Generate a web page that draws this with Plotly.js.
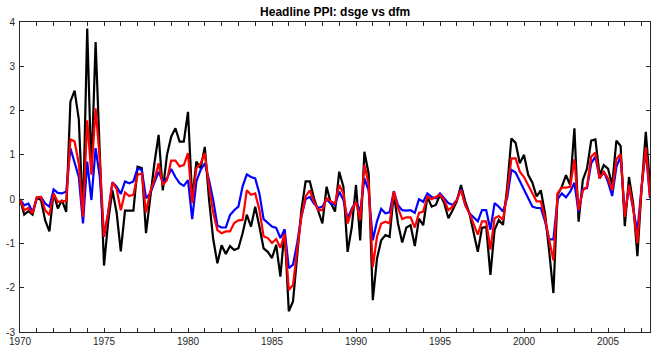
<!DOCTYPE html>
<html>
<head>
<meta charset="utf-8">
<script src="https://cdn.plot.ly/plotly-3.0.1.min.js"></script>
<style>html,body{margin:0;padding:0;background:#fff;}#chart{width:652px;height:347px;}</style>
</head>
<body>
<div id="chart"></div>
<script>
// Quarterly observations 1970Q1 .. 2007Q3
var startYear = 1970;
var actual = [
 0,-0.35,-0.27,-0.35,0.03,-0.02,-0.48,-0.73,0.14,-0.21,-0.02,-0.29,
 2.2,2.45,1.8,-0.4,3.85,0.6,3.55,1.0,-1.5,-0.5,0.2,-0.3,
 -1.18,-0.26,-0.26,-0.26,0.73,0.7,-0.77,0.06,0.81,1.45,0.2,1.0,
 1.41,1.6,1.3,1.3,1.97,0.0,0.85,0.7,1.18,0.0,-0.9,-1.45,
 -1.04,-1.24,-1.06,-1.15,-1.11,-0.77,-0.35,-0.62,-0.17,-0.62,-1.11,-1.19,
 -1.33,-1.03,-1.75,-0.69,-2.53,-2.31,-1.22,-0.24,0.4,0.4,0.02,-0.28,
 -0.55,0.28,-0.09,-0.28,0.62,0.28,-1.19,-0.63,0.32,-0.93,1.07,0.58,
 -2.28,-1.34,-0.93,-0.81,-0.85,0.13,-0.55,-0.98,-0.64,-0.59,-1.06,-0.44,
 -0.59,0.05,-0.17,-0.13,0.1,-0.09,-0.43,-0.25,-0.05,0.32,-0.05,-0.32,
 -0.77,-1.19,-0.65,-0.62,-1.71,-0.69,-0.47,-0.58,0.28,1.37,1.27,0.81,
 1.0,0.55,0.37,0.06,0.2,-0.32,-1.18,-2.12,0.1,0.28,0.54,0.32,
 1.6,-0.51,0.43,0.69,1.32,1.35,0.54,0.77,0.69,0.32,1.32,1.2,
 -0.61,0.5,-0.1,-1.29,0.25,1.52,0.32
];
var dsge = [
 0,-0.25,-0.2,-0.32,0.04,0.05,-0.25,-0.36,0.13,-0.06,-0.05,-0.04,
 1.35,1.3,0.8,-0.4,1.78,0.55,2.05,0.9,-0.85,-0.3,0.38,0.23,
 -0.25,0.15,0.07,0.1,0.55,0.58,-0.3,0.17,0.43,0.81,0.32,0.43,
 0.87,0.87,0.74,0.77,1.04,-0.09,0.7,0.8,1.04,0.29,-0.3,-0.7,
 -0.77,-0.73,-0.73,-0.54,-0.48,-0.47,0.2,0.1,0.13,-0.24,-0.84,-0.88,
 -0.99,-0.9,-1.1,-0.78,-2.05,-1.94,-1.14,-0.39,0.06,0.2,-0.05,-0.25,
 -0.25,0.02,-0.05,-0.1,0.32,0.13,-0.55,-0.25,-0.06,-0.47,0.77,0.35,
 -1.53,-0.85,-0.55,-0.51,-0.55,0.17,-0.2,-0.45,-0.41,-0.41,-0.64,-0.31,
 -0.28,0.06,0.0,0.05,0.1,-0.02,-0.25,-0.17,-0.02,0.21,-0.13,-0.32,
 -0.55,-0.8,-0.5,-0.5,-1.14,-0.43,-0.38,-0.47,0.15,0.92,0.92,0.62,
 0.5,0.32,0.13,-0.05,-0.05,-0.43,-0.92,-1.38,0.13,0.26,0.26,0.28,
 0.9,-0.25,0.2,0.28,0.96,1.05,0.47,0.62,0.47,0.2,0.9,1.02,
 -0.4,0.32,-0.2,-1.0,0.28,1.17,0.05
];
var dfm = [
 0,-0.14,-0.1,-0.29,0.02,0.05,-0.1,-0.17,0.22,0.14,0.13,0.17,
 1.15,0.85,0.5,-0.55,0.85,-0.02,1.15,0.5,-0.85,-0.3,0.38,0.28,
 0.12,0.4,0.36,0.4,0.7,0.66,0.02,0.13,0.36,0.62,0.4,0.47,
 0.68,0.5,0.36,0.3,0.43,-0.45,0.4,0.66,0.81,0.43,-0.02,-0.6,
 -0.64,-0.64,-0.36,-0.25,-0.17,0.29,0.56,0.5,0.47,0.13,-0.45,-0.53,
 -0.62,-0.65,-0.88,-0.68,-1.56,-1.48,-0.99,-0.39,0.0,0.05,-0.1,-0.2,
 -0.17,0.0,-0.1,-0.13,0.17,-0.02,-0.44,-0.21,-0.06,-0.28,0.47,0.2,
 -0.93,-0.5,-0.22,-0.32,-0.3,0.18,-0.14,-0.25,-0.26,-0.25,-0.31,0.0,
 -0.06,0.13,0.05,0.02,0.13,0.02,-0.09,-0.13,-0.02,0.24,-0.13,-0.32,
 -0.41,-0.5,-0.25,-0.25,-0.69,-0.09,-0.17,-0.28,0.03,0.66,0.6,0.4,
 0.21,0.02,-0.17,-0.2,-0.2,-0.5,-0.91,-0.91,0.0,0.13,0.04,0.17,
 0.37,-0.29,0.23,0.25,0.81,0.96,0.47,0.62,0.39,0.07,0.73,0.96,
 -0.36,0.28,-0.2,-0.73,0.28,1.1,0.02
];
var xTickLabels = ['1970','1975','1980','1985','1990','1995','2000','2005'];
var yTickLabels = ['-3','-2','-1','0','1','2','3','4'];

var dates = actual.map(function(_, i){ return startYear + i*0.25; });
var endX = dates[dates.length-1];

var tickvals = [], ticktext = [];
for (var y = 1970; y <= Math.floor(endX); y++) {
  tickvals.push(y);
  var s = String(y);
  ticktext.push(xTickLabels.indexOf(s) >= 0 ? s : '');
}
var yvals = yTickLabels.map(function(t){ return parseFloat(t); });

var traces = [
  {x: dates, y: actual, name: 'actual', mode: 'lines', line: {color: '#000000', width: 2.2}},
  {x: dates, y: dfm, name: 'dfm', mode: 'lines', line: {color: '#0000ff', width: 2.2}},
  {x: dates, y: dsge, name: 'dsge', mode: 'lines', line: {color: '#ff0000', width: 2.2}}
];

var layout = {
  width: 652, height: 347,
  margin: {l: 20, r: 2, t: 22, b: 15},
  paper_bgcolor: '#ffffff', plot_bgcolor: '#ffffff',
  showlegend: false,
  font: {family: 'Liberation Sans, Arial, sans-serif', size: 10, color: '#262626'},
  title: {text: 'Headline PPI: dsge vs dfm', font: {size: 12, weight: 'bold', color: '#000000', family: 'Liberation Sans, Arial, sans-serif'},
          x: 0.514, xanchor: 'center', y: 0.965, yanchor: 'middle'},
  xaxis: {
    range: [1970, endX], tickmode: 'array', tickvals: tickvals, ticktext: ticktext,
    ticks: 'inside', ticklen: 4, tickwidth: 1, tickcolor: '#262626',
    showline: true, linecolor: '#262626', linewidth: 1, mirror: 'ticks',
    showgrid: false, zeroline: false, tickfont: {size: 10}
  },
  yaxis: {
    range: [-3, 4], tickmode: 'array', tickvals: yvals, ticktext: yTickLabels,
    ticks: 'inside', ticklen: 4, tickwidth: 1, tickcolor: '#262626',
    showline: true, linecolor: '#262626', linewidth: 1, mirror: 'ticks',
    showgrid: false, zeroline: false, tickfont: {size: 10}, ticklabelstandoff: 2
  }
};
Plotly.newPlot('chart', traces, layout, {displayModeBar: false, staticPlot: true});
</script>
</body>
</html>
